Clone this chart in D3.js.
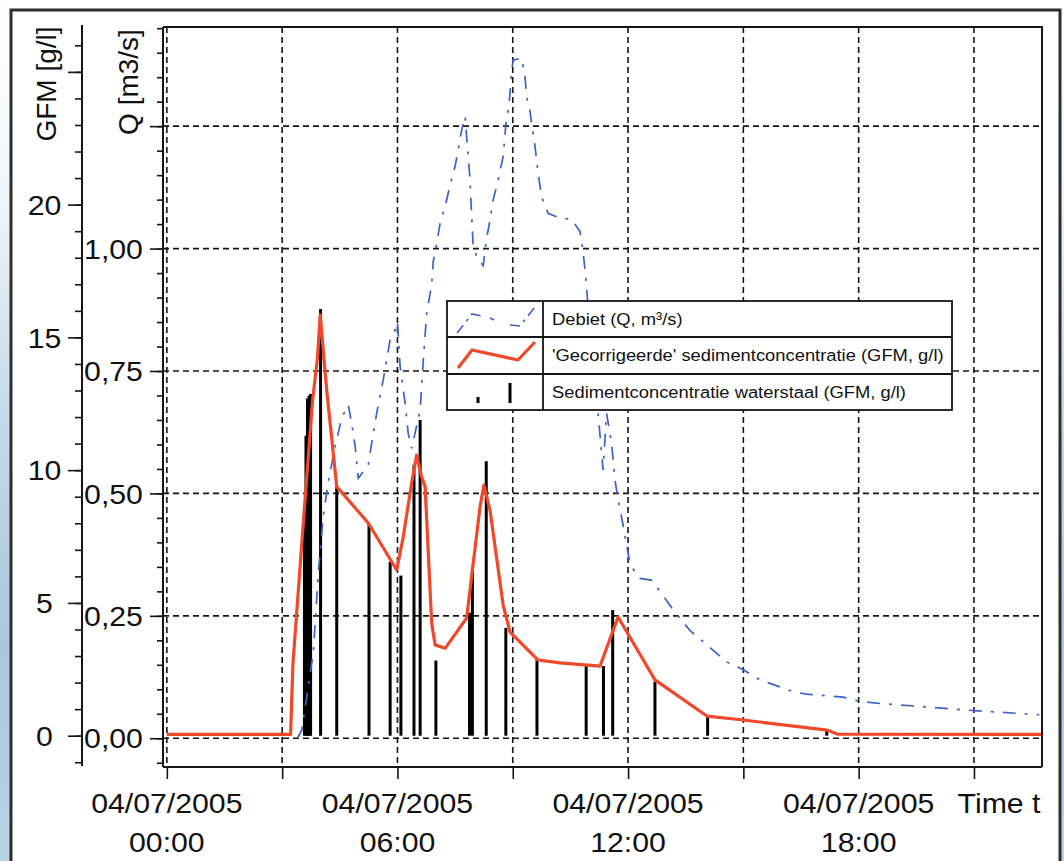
<!DOCTYPE html>
<html>
<head>
<meta charset="utf-8">
<script src="https://cdn.jsdelivr.net/npm/d3@7"></script>
<style>
  body { margin: 0; background: #fff; }
  svg { display: block; }
  text { font-family: "Liberation Sans", Arial, Helvetica, sans-serif; fill: #111; }
</style>
</head>
<body>
<svg id="chart" width="1064" height="861"></svg>
<script>
// ---- data -------------------------------------------------------------
// time in hours since 04/07/2005 00:00

// discharge Q [m3/s]
const dischargeTime = [3.40, 3.51, 3.81, 3.94, 4.07, 4.20, 4.38, 4.55, 4.72, 4.81, 4.90, 4.98,
  5.24, 5.33, 5.46, 5.63, 5.81, 5.94, 6.00, 6.07, 6.20, 6.28, 6.37, 6.59, 6.67, 6.76, 6.89,
  6.93, 7.00, 7.11, 7.24, 7.37, 7.50, 7.58, 7.67, 7.76, 7.80, 7.84, 7.89, 7.91, 7.95, 7.97,
  8.06, 8.23, 8.32, 8.41, 8.48, 8.62, 8.75, 8.82, 8.91, 8.97, 9.01, 9.23, 9.32, 9.36, 9.45,
  9.49, 9.58, 9.66, 9.75, 9.92, 10.23, 10.53, 10.75, 10.82, 10.88, 10.92, 11.00, 11.19, 11.35,
  11.44, 11.57, 11.66, 11.74, 11.88, 11.96, 12.05, 12.27, 12.61, 12.83, 13.18, 13.61, 13.96,
  14.56, 15.00, 15.43, 15.95, 16.30, 16.64, 17.60, 17.99, 18.55, 19.60, 20.70, 22.70];
const dischargeQ = [0.000, 0.017, 0.174, 0.337, 0.453, 0.524, 0.596, 0.654, 0.681, 0.643, 0.596, 0.531,
  0.558, 0.603, 0.664, 0.732, 0.814, 0.834, 0.850, 0.759, 0.684, 0.623, 0.592, 0.670, 0.769, 0.868, 0.926,
  0.973, 1.000, 1.052, 1.086, 1.130, 1.168, 1.202, 1.242, 1.270, 1.229, 1.188, 1.140, 1.100, 1.038, 1.004,
  0.984, 0.965, 1.021, 1.059, 1.096, 1.140, 1.188, 1.253, 1.300, 1.361, 1.385, 1.389, 1.351, 1.310, 1.280,
  1.256, 1.208, 1.154, 1.106, 1.072, 1.062, 1.060, 1.035, 1.000, 0.957, 0.922, 0.834, 0.690, 0.548,
  0.664, 0.603, 0.528, 0.487, 0.432, 0.395, 0.357, 0.327, 0.323, 0.300, 0.262, 0.220, 0.197,
  0.156, 0.140, 0.119, 0.105, 0.095, 0.090, 0.084, 0.076, 0.071, 0.065, 0.058, 0.048];

// corrected sediment concentration GFM [g/l]
const correctedTime = [0.00, 3.22, 3.28, 3.55, 3.79, 3.92, 3.99, 4.16, 4.42, 5.24, 5.98, 6.15, 6.37,
  6.50, 6.63, 6.72, 6.89, 6.98, 7.24, 7.80, 8.15, 8.25, 8.41, 8.75, 8.93, 9.66, 10.23, 11.27,
  11.74, 12.70, 14.05, 15.00, 17.18, 17.44, 22.77];
const correctedGFM = [0.05, 0.05, 2.70, 8.00, 12.60, 14.25, 15.85, 13.00, 9.38, 8.01, 6.24, 7.48, 9.52,
  10.57, 9.75, 9.38, 4.24, 3.42, 3.29, 4.43, 8.63, 9.44, 8.48, 4.92, 3.90, 2.85, 2.74, 2.62,
  4.47, 2.10, 0.74, 0.59, 0.21, 0.06, 0.05];

// water sample sediment concentration GFM [g/l]
const sampleTime = [3.58, 3.62, 3.66, 3.70, 3.74, 4.00, 4.42, 5.26, 5.81, 6.09, 6.43, 6.59, 7.00,
  7.875, 7.95, 8.31, 8.82, 9.63, 10.91, 11.36, 11.60, 12.70, 14.07, 17.17];
const sampleGFM = [8.1, 11.3, 12.7, 12.8, 12.87, 16.07, 9.38, 7.96, 6.55, 6.03, 10.2, 11.89, 2.83,
  4.63, 6.34, 10.34, 4.06, 2.85, 2.62, 2.62, 4.73, 2.03, 0.78, 0.21];

// axes
const timeTicks = [0, 3, 6, 9, 12, 15, 18, 21];
const timeLabelHours = [0, 6, 12, 18];
const timeLabelDate = "04/07/2005";
const qMajorTicks = [0, 0.25, 0.5, 0.75, 1.0, 1.25];
const qLabelled = [0, 0.25, 0.5, 0.75, 1.0];
const gfmMajorTicks = [0, 5, 10, 15, 20, 25];
const gfmLabelled = [0, 5, 10, 15, 20];

const legendItems = ["Debiet (Q, m³/s)",
  "'Gecorrigeerde' sedimentconcentratie (GFM, g/l)",
  "Sedimentconcentratie waterstaal (GFM, g/l)"];

// ---- layout -----------------------------------------------------------
const svg = d3.select("#chart");
const plot = { left: 163, right: 1042, top: 27, bottom: 767 };
const RED = "#f2482a", BLUE = "#3c63c6", INK = "#151515";
const STRETCH = 1.08;

const x = d3.scaleLinear().domain([-0.1, 22.77]).range([plot.left, plot.right]);
const yQ = d3.scaleLinear().domain([-0.0587, 1.4525]).range([plot.bottom, plot.top]);
const yG = d3.scaleLinear().domain([-1.179, 26.69]).range([plot.bottom, plot.top]);

const comma = d3.formatLocale({ decimal: ",", thousands: ".", grouping: [3], currency: ["", ""] });
const fmtQ = comma.format(".2f");

// ---- backdrop -----------------------------------------------------------
const defs = svg.append("defs");
const grad = defs.append("linearGradient").attr("id", "side").attr("x1", 0).attr("y1", 0).attr("x2", 0).attr("y2", 1);
grad.append("stop").attr("offset", "0%").attr("stop-color", "#ffffff");
grad.append("stop").attr("offset", "22%").attr("stop-color", "#f2f6f9");
grad.append("stop").attr("offset", "45%").attr("stop-color", "#c9dcea");
grad.append("stop").attr("offset", "75%").attr("stop-color", "#a9c7dd");
grad.append("stop").attr("offset", "100%").attr("stop-color", "#b9d3e6");

svg.append("rect").attr("x", 0).attr("y", 0).attr("width", 1064).attr("height", 861).attr("fill", "#fff");
svg.append("rect").attr("x", 0).attr("y", 0).attr("width", 11).attr("height", 861).attr("fill", "url(#side)");
svg.append("rect").attr("x", 1060).attr("y", 0).attr("width", 4).attr("height", 861).attr("fill", "url(#side)");
svg.append("rect").attr("x", 11).attr("y", 10).attr("width", 1049).attr("height", 880)
  .attr("fill", "#fff").attr("stroke", "#2e2e2e").attr("stroke-width", 3);

// ---- grid -----------------------------------------------------------------
const grid = svg.append("g").attr("stroke", INK).attr("stroke-width", 1.6).attr("stroke-dasharray", "6,4");
grid.selectAll("line.h").data(qMajorTicks).join("line").attr("class", "h")
  .attr("x1", plot.left).attr("x2", plot.right)
  .attr("y1", d => yQ(d)).attr("y2", d => yQ(d));
grid.selectAll("line.v").data(timeTicks).join("line").attr("class", "v")
  .attr("x1", d => x(d)).attr("x2", d => x(d))
  .attr("y1", plot.top).attr("y2", plot.bottom);

// ---- series -----------------------------------------------------------------
// water samples as thin bars
svg.append("g").selectAll("line").data(d3.range(sampleTime.length)).join("line")
  .attr("x1", i => x(sampleTime[i])).attr("x2", i => x(sampleTime[i]))
  .attr("y1", yG(0)).attr("y2", i => yG(sampleGFM[i]))
  .attr("stroke", "#000").attr("stroke-width", 3);

// discharge
svg.append("path")
  .datum(d3.range(dischargeTime.length))
  .attr("d", d3.line().x(i => x(dischargeTime[i])).y(i => yQ(dischargeQ[i])))
  .attr("fill", "none").attr("stroke", BLUE).attr("stroke-width", 1.7)
  .attr("stroke-dasharray", "13,9,3,9");

// corrected concentration
svg.append("path")
  .datum(d3.range(correctedTime.length))
  .attr("d", d3.line().x(i => x(correctedTime[i])).y(i => yG(correctedGFM[i])))
  .attr("fill", "none").attr("stroke", RED).attr("stroke-width", 3.2)
  .attr("stroke-linejoin", "round");

// ---- plot frame (top / right) ---------------------------------------------------
svg.append("path")
  .attr("d", `M${plot.left},${plot.top}H${plot.right}V${plot.bottom}`)
  .attr("fill", "none").attr("stroke", INK).attr("stroke-width", 2);

// ---- axes -------------------------------------------------------------------
function styleAxis(g) {
  g.select(".domain").remove();
  g.selectAll("line").attr("stroke", INK).attr("stroke-width", 1.6);
}

// Q axis (left border of the plot)
const qAxisG = svg.append("g").attr("transform", `translate(${plot.left},0)`);
qAxisG.append("g").call(d3.axisLeft(yQ).tickValues(d3.range(-0.05, 1.451, 0.05)).tickSize(6).tickFormat(""))
  .call(styleAxis);
qAxisG.append("g").call(d3.axisLeft(yQ).tickValues(qMajorTicks).tickSize(13).tickPadding(8)
    .tickFormat(d => qLabelled.includes(d) ? fmtQ(d) : ""))
  .call(styleAxis);
qAxisG.append("line").attr("y1", plot.top).attr("y2", plot.bottom)
  .attr("stroke", INK).attr("stroke-width", 2);

// GFM axis
const gAxisX = 82;
const gAxisG = svg.append("g").attr("transform", `translate(${gAxisX},0)`);
gAxisG.append("g").call(d3.axisLeft(yG).tickValues(d3.range(-1, 27, 1)).tickSize(7).tickFormat(""))
  .call(styleAxis);
gAxisG.append("g").call(d3.axisLeft(yG).tickValues(gfmMajorTicks).tickSize(14)
    .tickFormat(d => gfmLabelled.includes(d) ? String(d) : ""))
  .call(styleAxis);
gAxisG.append("line").attr("y1", 25).attr("y2", 766).attr("stroke", INK).attr("stroke-width", 2);

// time axis
const tAxisG = svg.append("g").attr("transform", `translate(0,${plot.bottom})`);
tAxisG.append("g").call(d3.axisBottom(x).tickValues(timeTicks).tickSize(12).tickFormat("")).call(styleAxis);
tAxisG.append("line").attr("x1", plot.left).attr("x2", plot.right)
  .attr("stroke", INK).attr("stroke-width", 2);

// tick label styling (numbers slightly wide, as in the chart export)
qAxisG.selectAll(".tick text")
  .attr("font-size", 28).attr("fill", INK)
  .attr("text-anchor", "middle").attr("x", 0).attr("dy", null)
  .attr("dominant-baseline", "central")
  .attr("transform", `translate(${113.5 - plot.left},0) scale(${STRETCH},1)`);
gAxisG.selectAll(".tick text")
  .attr("font-size", 28).attr("fill", INK)
  .attr("text-anchor", "middle").attr("x", 0).attr("dy", null)
  .attr("dominant-baseline", "central")
  .attr("transform", `translate(${44.5 - gAxisX},0) scale(${STRETCH},1)`);

// time labels (two lines)
const tl = svg.append("g").selectAll("g").data(timeLabelHours).join("g")
  .attr("transform", d => `translate(${x(d)},0) scale(${STRETCH},1)`);
tl.append("text").attr("y", 813).attr("text-anchor", "middle").attr("font-size", 28).text(timeLabelDate);
tl.append("text").attr("y", 852).attr("text-anchor", "middle").attr("font-size", 28)
  .text(d => String(d).padStart(2, "0") + ":00");
svg.append("text").attr("transform", `translate(999,813) scale(${STRETCH},1)`)
  .attr("text-anchor", "middle").attr("font-size", 28).text("Time t");

// axis titles
svg.append("text").attr("transform", "translate(46,84) rotate(-90)")
  .attr("text-anchor", "middle").attr("dominant-baseline", "central").attr("font-size", 28).text("GFM [g/l]");
svg.append("text").attr("transform", "translate(128,82) rotate(-90)")
  .attr("text-anchor", "middle").attr("dominant-baseline", "central").attr("font-size", 28).text("Q [m3/s]");

// ---- legend -----------------------------------------------------------------
const lg = { x0: 447, x1: 952, xs: 543, rows: [301, 337, 374, 410] };
const legend = svg.append("g");
legend.append("rect").attr("x", lg.x0).attr("y", lg.rows[0])
  .attr("width", lg.x1 - lg.x0).attr("height", lg.rows[3] - lg.rows[0])
  .attr("fill", "#fff").attr("stroke", INK).attr("stroke-width", 1.8);
legend.selectAll("line.row").data([lg.rows[1], lg.rows[2]]).join("line").attr("class", "row")
  .attr("x1", lg.x0).attr("x2", lg.x1).attr("y1", d => d).attr("y2", d => d)
  .attr("stroke", INK).attr("stroke-width", 1.8);
legend.append("line").attr("x1", lg.xs).attr("x2", lg.xs).attr("y1", lg.rows[0]).attr("y2", lg.rows[3])
  .attr("stroke", INK).attr("stroke-width", 1.8);
legend.selectAll("text").data(legendItems).join("text")
  .attr("transform", (d, i) => `translate(552,${(lg.rows[i] + lg.rows[i + 1]) / 2}) scale(${STRETCH},1)`)
  .attr("dominant-baseline", "central").attr("font-size", 17).text(d => d);

// legend symbols
legend.append("path").attr("d", "M457,333L472,314L482,316M490,318L494,320M510,325L520,326L535,307")
  .attr("fill", "none").attr("stroke", BLUE).attr("stroke-width", 1.6).attr("stroke-dasharray", "10,5,3,5");
legend.append("path").attr("d", "M458,368L472,350L518,360L535,342")
  .attr("fill", "none").attr("stroke", RED).attr("stroke-width", 3.2).attr("stroke-linejoin", "round");
legend.append("line").attr("x1", 478).attr("x2", 478).attr("y1", 397).attr("y2", 403)
  .attr("stroke", "#000").attr("stroke-width", 3);
legend.append("line").attr("x1", 510).attr("x2", 510).attr("y1", 383).attr("y2", 403)
  .attr("stroke", "#000").attr("stroke-width", 3);
</script>
</body>
</html>
